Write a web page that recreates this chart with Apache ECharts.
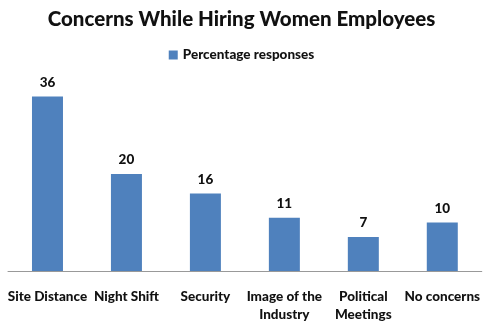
<!DOCTYPE html>
<html><head><meta charset="utf-8">
<script src="https://cdn.jsdelivr.net/npm/echarts@6/dist/echarts.min.js"></script>
<style>html,body{margin:0;padding:0;background:#fff}#c{width:483px;height:324px}</style>
</head><body><div id="c"></div>
<script>
const categories = ['Site Distance', 'Night Shift', 'Security', 'Image of the\nIndustry', 'Political\nMeetings', 'No concerns'];
const values = [36, 20, 16, 11, 7, 10];
const seriesName = 'Percentage responses';
const titleText = 'Concerns While Hiring Women Employees';
const FONT = 'Lato';
const chart = echarts.init(document.getElementById('c'));
chart.setOption({
  animation: false,
  title: { text: titleText, left: 'center', top: 4, textStyle: { fontFamily: FONT, fontWeight: 900, fontSize: 20.5, color: '#111' } },
  legend: { top: 43, left: 'center', itemWidth: 9, itemHeight: 9, icon: 'rect', itemGap: 5,
    textStyle: { fontFamily: FONT, fontWeight: 900, fontSize: 13.5, color: '#111' }, data: [seriesName] },
  grid: { left: 8, right: 1, top: 77, bottom: 53, containLabel: false },
  xAxis: { type: 'category', data: categories,
    axisLine: { lineStyle: { color: '#999', width: 1 } }, axisTick: { show: false },
    axisLabel: { interval: 0, margin: 17, fontFamily: FONT, fontWeight: 900, fontSize: 13.5, color: '#111', lineHeight: 18 } },
  yAxis: { type: 'value', min: 0, max: 40, show: false, splitLine: { show: false } },
  series: [{ name: seriesName, type: 'bar', data: values, barWidth: 31,
    itemStyle: { color: '#4F81BD' },
    label: { show: true, position: 'top', distance: 7, fontFamily: FONT, fontWeight: 900, fontSize: 13.5, color: '#111' } }]
});
</script></body></html>
